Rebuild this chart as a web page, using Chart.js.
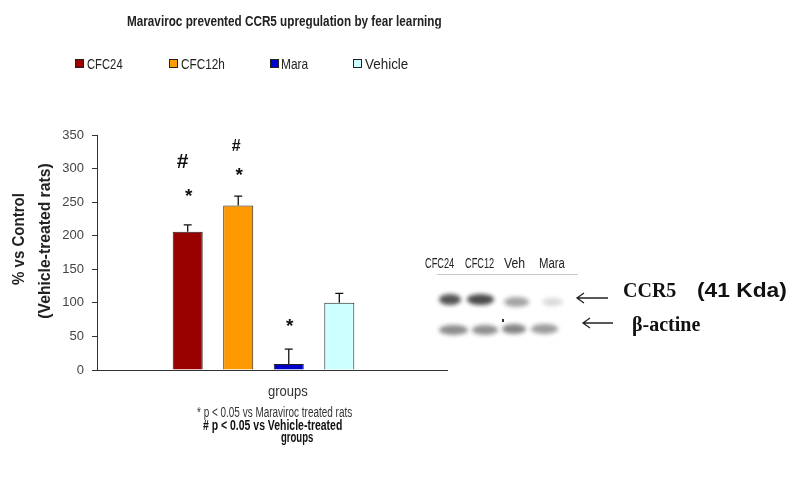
<!DOCTYPE html>
<html lang="en">
<head>
    <meta charset="UTF-8">
    <title>Maraviroc prevented CCR5 upregulation by fear learning</title>
    <script src="https://cdn.jsdelivr.net/npm/chart.js"></script>
    <style>
        body {
            margin: 0;
            background: #ffffff;
            font-family: "Liberation Sans", Arial, sans-serif;
        }
        #page {
            position: relative;
            width: 797px;
            height: 482px;
            overflow: hidden;
        }
        #chartBox {
            position: absolute;
            left: 0;
            top: 0;
            width: 797px;
            height: 482px;
        }
        .txt {
            position: absolute;
            white-space: nowrap;
            line-height: 1;
        }
        .sq {
            position: absolute;
            width: 7px;
            height: 7px;
            border: 1px solid #222;
        }
        .band {
            position: absolute;
            border-radius: 50%;
            filter: blur(2px);
        }
    </style>
</head>
<body>
    <div id="page">
        <div id="chartBox"><canvas id="ccr5Chart" width="797" height="482"></canvas></div>
    </div>

    <script>
        // datos
        const groups = ['groups'];
        const seriesNames = ['CFC24', 'CFC12h', 'Mara', 'Vehicle'];
        const seriesValues = [206, 245, 9, 100];
        const seriesErrors = [10, 14, 22, 14];
        const seriesColors = ['#990000', '#FF9900', '#0000CC', '#CCFFFF'];
        // altura (en % vs control) de las marcas de significancia
        const starAt = [264, 295, 71, null];
        const hashAt = [310, 332, null, null];
        const yMax = 350;
        const yStep = 50;

        const page = document.getElementById('page');

        // texto posicionado; w = ancho objetivo (se comprime con scaleX)
        function place(text, x, y, w, css, rotate) {
            const el = document.createElement('span');
            el.className = 'txt';
            el.textContent = text;
            Object.assign(el.style, css || {});
            page.appendChild(el);
            const k = w ? w / el.offsetWidth : 1;
            el.style.left = x + 'px';
            el.style.top = y + 'px';
            if (rotate) {
                el.style.transformOrigin = 'center center';
                el.style.transform = `translate(-50%, -50%) rotate(-90deg) scaleX(${k})`;
            } else {
                el.style.transformOrigin = 'left center';
                el.style.transform = `translateY(-50%) scaleX(${k})`;
            }
            return el;
        }

        // titulo
        place('Maraviroc prevented CCR5 upregulation by fear learning', 127, 20, 315,
            { fontSize: '15px', fontWeight: 'bold', color: '#222' });

        // leyenda
        const legendX = [75, 169, 270, 353];
        const legendTextX = [87, 181, 281, 365];
        const legendTextW = [36, 44, 27, 43];
        seriesNames.forEach((name, i) => {
            const sq = document.createElement('div');
            sq.className = 'sq';
            sq.style.left = legendX[i] + 'px';
            sq.style.top = '59px';
            sq.style.background = seriesColors[i];
            page.appendChild(sq);
            place(name, legendTextX[i], 63, legendTextW[i], { fontSize: '15px', color: '#222' });
        });

        // titulo eje y
        place('% vs Control', 18, 239, 92, { fontSize: '17px', fontWeight: 'bold', color: '#222' }, true);
        place('(Vehicle-treated rats)', 45, 241, 155, { fontSize: '16px', fontWeight: 'bold', color: '#222' }, true);

        // notas al pie
        place('groups', 268, 391, 40, { fontSize: '14px', color: '#333' });
        place('* p < 0.05 vs Maraviroc treated rats', 197, 412, 155, { fontSize: '14px', color: '#333' });
        place('# p < 0.05 vs Vehicle-treated', 203, 425, 139, { fontSize: '14px', fontWeight: 'bold', color: '#111' });
        place('groups', 281, 437, 32, { fontSize: '14px', fontWeight: 'bold', color: '#111' });

        // western blot (imagen aproximada)
        const lanes = ['CFC24', 'CFC12', 'Veh', 'Mara'];
        const laneX = [425, 465, 504, 539];
        const laneW = [29, 29, 21, 26];
        lanes.forEach((l, i) => place(l, laneX[i], 263, laneW[i], { fontSize: '14px', color: '#222' }));

        const rule = document.createElement('div');
        Object.assign(rule.style, { position: 'absolute', left: '437px', top: '274px', width: '141px', height: '1px', background: '#c8c8c8' });
        page.appendChild(rule);

        const bands = [
            [439, 294, 22, 11, '#555'], [467, 294, 27, 11, '#4c4c4c'], [504, 297, 25, 10, '#a4a4a4'], [542, 298, 21, 8, '#dadada'],
            [439, 325, 29, 10, '#8c8c8c'], [472, 325, 26, 10, '#909090'], [502, 324, 24, 10, '#858585'], [531, 324, 27, 10, '#9c9c9c']
        ];
        bands.forEach(b => {
            const d = document.createElement('div');
            d.className = 'band';
            Object.assign(d.style, { left: b[0] + 'px', top: b[1] + 'px', width: b[2] + 'px', height: b[3] + 'px', background: b[4] });
            page.appendChild(d);
        });
        const dot = document.createElement('div');
        Object.assign(dot.style, { position: 'absolute', left: '502px', top: '319px', width: '2px', height: '3px', background: '#333' });
        page.appendChild(dot);

        // flechas
        const svgNS = 'http://www.w3.org/2000/svg';
        const svg = document.createElementNS(svgNS, 'svg');
        svg.setAttribute('width', '797');
        svg.setAttribute('height', '482');
        svg.style.position = 'absolute';
        svg.style.left = '0';
        svg.style.top = '0';
        [[577, 608, 298], [583, 613, 323]].forEach(a => {
            const p = document.createElementNS(svgNS, 'path');
            p.setAttribute('d', `M${a[1]} ${a[2]} L${a[0]} ${a[2]} M${a[0] + 7} ${a[2] - 5} L${a[0]} ${a[2]} L${a[0] + 7} ${a[2] + 5}`);
            p.setAttribute('stroke', '#222');
            p.setAttribute('stroke-width', '1.3');
            p.setAttribute('fill', 'none');
            svg.appendChild(p);
        });
        page.appendChild(svg);

        place('CCR5', 623, 290, 53, { fontSize: '20px', fontWeight: 'bold', fontFamily: '"Liberation Serif", "Times New Roman", serif', color: '#111' });
        place('(41 Kda)', 697, 289, 90, { fontSize: '21px', fontWeight: 'bold', color: '#111' });
        place('\u03B2-actine', 632, 324, 68, { fontSize: '20px', fontWeight: 'bold', fontFamily: '"Liberation Serif", "Times New Roman", serif', color: '#111' });

        // barras de error y marcas de significancia
        const extras = {
            id: 'extras',
            afterDatasetsDraw(chart) {
                const c = chart.ctx;
                const y = chart.scales.y;
                const area = chart.chartArea;
                c.save();
                // eje x (se extiende a la derecha como en el original)
                c.strokeStyle = '#333';
                c.lineWidth = 1;
                c.beginPath();
                c.moveTo(area.left, Math.round(area.bottom) + 0.5);
                c.lineTo(448, Math.round(area.bottom) + 0.5);
                c.stroke();

                chart.data.datasets.forEach((ds, i) => {
                    const bar = chart.getDatasetMeta(i).data[0];
                    const top = y.getPixelForValue(ds.data[0] + ds.err);
                    c.strokeStyle = '#111';
                    c.lineWidth = 1.3;
                    c.beginPath();
                    c.moveTo(bar.x, bar.y);
                    c.lineTo(bar.x, top);
                    c.moveTo(bar.x - 4, top);
                    c.lineTo(bar.x + 4, top);
                    c.stroke();

                    c.fillStyle = '#111';
                    c.textAlign = 'center';
                    c.textBaseline = 'middle';
                    if (starAt[i] !== null) {
                        c.font = 'bold 19px "Liberation Sans", Arial';
                        c.fillText('*', bar.x + 1, y.getPixelForValue(starAt[i]) + 4);
                    }
                    if (hashAt[i] !== null) {
                        c.font = i === 0 ? 'bold 21px "Liberation Sans", Arial' : 'bold 16px "Liberation Sans", Arial';
                        c.fillText('#', bar.x - (i === 0 ? 5 : 2), y.getPixelForValue(hashAt[i]));
                    }
                });
                c.restore();
            }
        };

        const ctx = document.getElementById('ccr5Chart').getContext('2d');
        const ccr5Chart = new Chart(ctx, {
            type: 'bar',
            data: {
                labels: groups,
                datasets: seriesNames.map((name, i) => ({
                    label: name,
                    data: [seriesValues[i]],
                    err: seriesErrors[i],
                    backgroundColor: seriesColors[i],
                    borderColor: '#222',
                    borderWidth: 1,
                    borderSkipped: 'bottom',
                    categoryPercentage: 0.607,
                    barPercentage: 0.594
                }))
            },
            options: {
                responsive: false,
                animation: false,
                layout: { padding: { left: 57, top: 135, right: 367, bottom: 112 } },
                plugins: {
                    legend: { display: false },
                    tooltip: { enabled: false }
                },
                scales: {
                    x: {
                        grid: { display: false },
                        border: { display: false },
                        ticks: { display: false },
                        afterFit(scale) { scale.height = 0; }
                    },
                    y: {
                        min: 0,
                        max: yMax,
                        ticks: {
                            stepSize: yStep,
                            padding: 8,
                            color: '#444',
                            font: { family: '"Liberation Sans", Arial', size: 13 }
                        },
                        grid: { drawOnChartArea: false, drawTicks: true, tickLength: 5, color: '#333' },
                        border: { display: true, color: '#333' },
                        afterFit(scale) { scale.width = 40; }
                    }
                }
            },
            plugins: [extras]
        });
    </script>
</body>
</html>
